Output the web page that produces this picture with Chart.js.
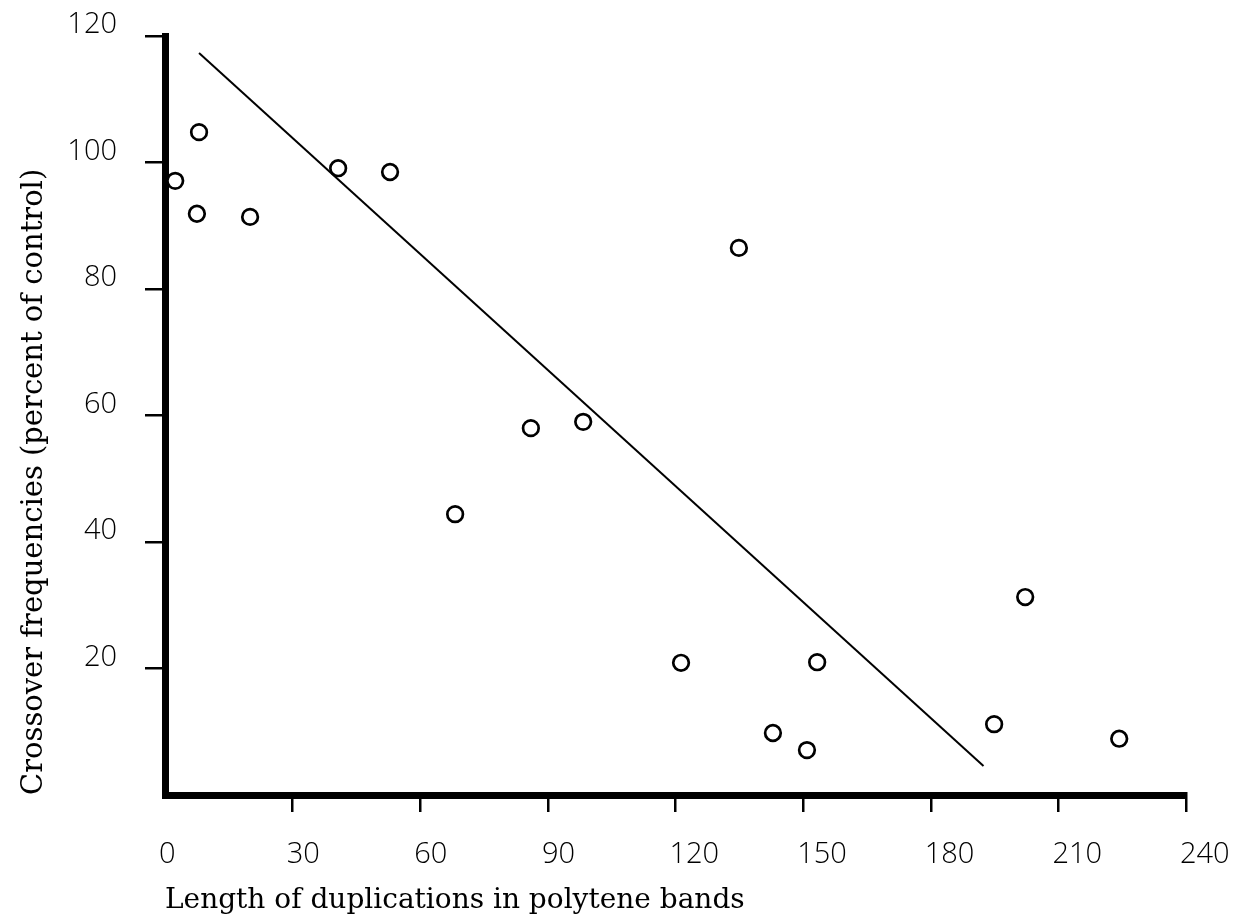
<!DOCTYPE html>
<html>
<head>
<meta charset="utf-8">
<script src="https://cdn.jsdelivr.net/npm/chart.js@4.4.0/dist/chart.umd.min.js"></script>
<style>
html,body{margin:0;padding:0;background:#fff;}
#wrap{width:1235px;height:922px;}
</style>
</head>
<body>
<div id="wrap"><canvas id="c" width="1235" height="922"></canvas></div>
<script>
// Data
const lengths = [2.4, 8.0, 7.5, 20.0, 40.7, 52.9, 134.9, 86.0, 98.3, 68.2, 121.3, 153.3, 142.9, 150.9, 194.9, 202.2, 224.3];
const crossover = [97.1, 104.8, 91.9, 91.4, 99.1, 98.5, 86.5, 58.0, 59.0, 44.4, 20.9, 21.0, 9.8, 7.1, 11.2, 31.3, 8.9];
const fitX = [8.0, 192.4];
const fitY = [117.3, 4.6];
const xTicks = [0, 30, 60, 90, 120, 150, 180, 210, 240];
const yTicks = [0, 20, 40, 60, 80, 100, 120];
const xTitle = 'Length of duplications in polytene bands';
const yTitle = 'Crossover frequencies (percent of control)';

const points = lengths.map((x, i) => ({x: x, y: crossover[i]}));
const fitLine = fitX.map((x, i) => ({x: x, y: fitY[i]}));

const tickFont = {family: "'Open Sans', 'DejaVu Sans', sans-serif", size: 29, weight: '300'};
const xTitleFont = {family: "'DejaVu Serif', 'Liberation Serif', serif", size: 28, weight: 'normal'};
const yTitleFont = {family: "'DejaVu Serif', 'Liberation Serif', serif", size: 29, weight: 'normal'};

new Chart(document.getElementById('c'), {
  type: 'scatter',
  data: {
    datasets: [
      {
        label: 'Observed',
        data: points,
        pointStyle: 'circle',
        pointRadius: 7.8,
        pointHoverRadius: 7.8,
        pointBorderWidth: 2.7,
        borderColor: '#000',
        backgroundColor: '#fff',
        clip: false,
        order: 1
      },
      {
        label: 'Fit',
        data: fitLine,
        showLine: true,
        borderColor: '#000',
        borderWidth: 2,
        pointRadius: 0,
        fill: false,
        clip: false,
        order: 2
      }
    ]
  },
  options: {
    responsive: false,
    devicePixelRatio: 1,
    animation: false,
    events: [],
    layout: {padding: {top: 36, right: 49, left: 0, bottom: 0}},
    plugins: {legend: {display: false}, tooltip: {enabled: false}},
    scales: {
      x: {
        type: 'linear',
        min: 0, max: 240,
        afterBuildTicks: s => { s.ticks = xTicks.map(v => ({value: v})); },
        afterFit: s => { s.height = 127; s.paddingLeft = 0; s.paddingRight = 0; },
        border: {display: true, color: '#000', width: 7},
        grid: {
          display: true, drawOnChartArea: false, drawTicks: true,
          tickLength: 17, lineWidth: 2.5,
          color: ctx => (ctx.tick && ctx.tick.value === 0) ? 'rgba(0,0,0,0)' : '#000'
        },
        ticks: {
          color: '#000', font: tickFont, padding: 25,
          align: 'start', labelOffset: -6, maxRotation: 0, autoSkip: false,
          callback: v => String(v)
        },
        title: {display: true, text: xTitle, color: '#000', font: xTitleFont, align: 'start', padding: {top: 4, bottom: 4}}
      },
      y: {
        type: 'linear',
        min: 0, max: 120,
        afterBuildTicks: s => { s.ticks = yTicks.map(v => ({value: v})); },
        afterFit: s => { s.width = 165; s.paddingTop = 0; s.paddingBottom = 0; },
        border: {display: true, color: '#000', width: 7},
        grid: {
          display: true, drawOnChartArea: false, drawTicks: true,
          tickLength: 20, lineWidth: 2.5,
          color: ctx => (ctx.tick && ctx.tick.value === 0) ? 'rgba(0,0,0,0)' : '#000'
        },
        ticks: {
          color: '#000', font: tickFont, padding: 28, labelOffset: -11, autoSkip: false,
          callback: v => v === 0 ? '' : String(v)
        },
        title: {display: true, text: yTitle, color: '#000', font: yTitleFont, align: 'start', padding: {top: 17, bottom: 4}}
      }
    }
  }
});
</script>
</body>
</html>
